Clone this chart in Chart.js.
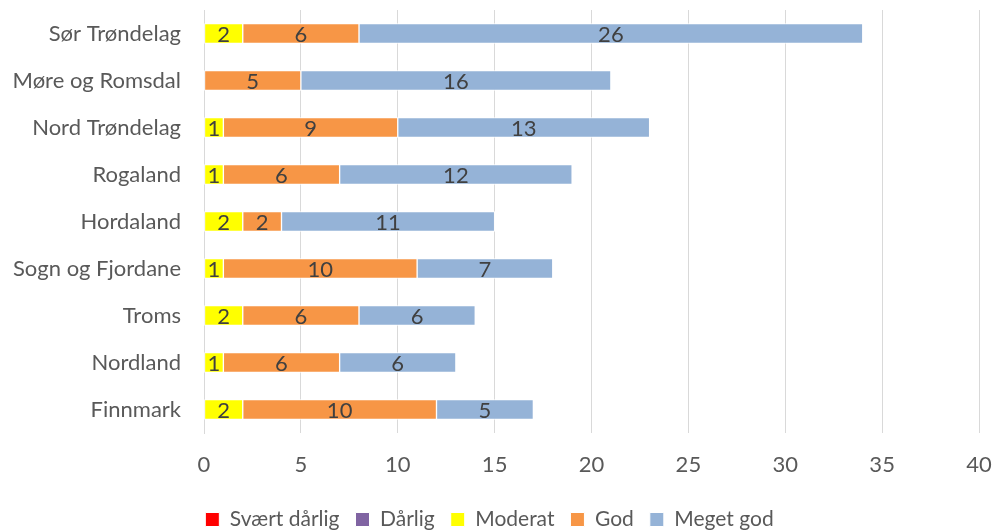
<!DOCTYPE html>
<html>
<head>
<meta charset="utf-8">
<script src="https://cdn.jsdelivr.net/npm/chart.js@4/dist/chart.umd.min.js"></script>
<style>
  html, body { margin: 0; padding: 0; background: #fff; }
  #wrap { width: 992px; height: 530px; }
</style>
</head>
<body>
<div id="wrap"><canvas id="chart" width="992" height="530"></canvas></div>
<script>
// Fylker, top to bottom
const counties = ['Sør Trøndelag', 'Møre og Romsdal', 'Nord Trøndelag', 'Rogaland', 'Hordaland',
  'Sogn og Fjordane', 'Troms', 'Nordland', 'Finnmark'];

const svaertDarlig = [0, 0, 0, 0, 0, 0, 0, 0, 0];
const darlig = [0, 0, 0, 0, 0, 0, 0, 0, 0];
const moderat = [2, 0, 1, 1, 2, 1, 2, 1, 2];
const god = [6, 5, 9, 6, 2, 10, 6, 6, 10];
const megetGod = [26, 16, 13, 12, 11, 7, 6, 6, 5];

const FONT = 'Lato, "Open Sans", sans-serif';
const SIZE = 22;

// draw the value inside each segment
const segmentLabels = {
  id: 'segmentLabels',
  afterDatasetsDraw(chart) {
    const ctx = chart.ctx;
    ctx.save();
    ctx.font = SIZE + 'px ' + FONT;
    ctx.fillStyle = '#404040';
    ctx.textAlign = 'center';
    ctx.textBaseline = 'middle';
    chart.data.datasets.forEach((ds, i) => {
      const meta = chart.getDatasetMeta(i);
      meta.data.forEach((bar, j) => {
        const v = ds.data[j];
        if (!v) return;
        ctx.fillText(String(v), (bar.x + bar.base) / 2, bar.y + 1);
      });
    });
    ctx.restore();
  },
};

const ds = (label, data, color) => ({
  label,
  data,
  backgroundColor: color,
  borderColor: '#ffffff',
  borderWidth: 1,
  borderSkipped: false,
  barThickness: 20,
});

new Chart(document.getElementById('chart'), {
  type: 'bar',
  data: {
    labels: counties,
    datasets: [
      ds('Svært dårlig', svaertDarlig, '#ff0000'),
      ds('Dårlig', darlig, '#8064a2'),
      ds('Moderat', moderat, '#ffff00'),
      ds('God', god, '#f79646'),
      ds('Meget god', megetGod, '#95b3d7'),
    ],
  },
  options: {
    indexAxis: 'y',
    responsive: false,
    animation: false,
    layout: { padding: { top: 10, right: 13, left: 0, bottom: -10 } },
    plugins: {
      tooltip: { enabled: false },
      legend: {
        position: 'bottom',
        labels: {
          color: '#595959',
          font: { family: FONT, size: 21 },
          boxWidth: 14,
          boxHeight: 14,
          padding: 16,
        },
      },
    },
    scales: {
      x: {
        stacked: true,
        min: 0,
        max: 40,
        afterFit: (scale) => { scale.height = 60; scale.paddingLeft = 0; scale.paddingRight = 0; },
        ticks: { stepSize: 5, color: '#595959', font: { family: FONT, size: SIZE }, padding: 19 },
        grid: { color: '#d9d9d9', drawTicks: false },
        border: { display: false },
      },
      y: {
        stacked: true,
        afterFit: (scale) => { scale.width = 204; scale.paddingTop = 0; scale.paddingBottom = 0; },
        ticks: { color: '#595959', font: { family: FONT, size: SIZE }, padding: 23 },
        grid: { display: false, drawTicks: false },
        border: { color: '#d9d9d9', width: 1 },
      },
    },
  },
  plugins: [segmentLabels],
});
</script>
</body>
</html>
